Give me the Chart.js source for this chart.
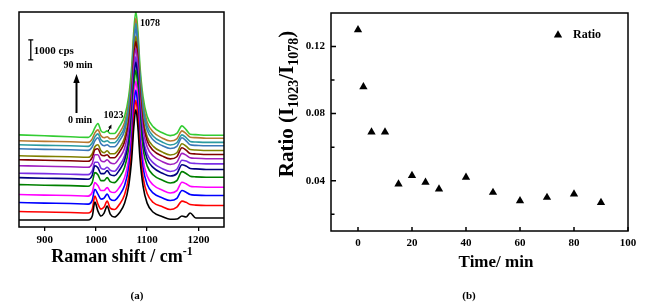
<!DOCTYPE html>
<html lang="en">

<head>
    <meta charset="UTF-8">
    <script src="https://cdn.jsdelivr.net/npm/chart.js"></script>
    <title>Raman spectra and I1023/I1078 ratio</title>
    <style>
        body { margin: 0; width: 666px; height: 307px; position: relative; overflow: hidden; background: #fff; font-family: "Liberation Serif", serif; }
        .painel { position: absolute; top: 0; height: 307px; }
        #painelA { left: 0; width: 260px; }
        #painelB { left: 260px; width: 406px; }
        .rotulo { position: absolute; top: 289px; width: 30px; margin-left: -15px; text-align: center; font-weight: bold; font-size: 11px; }
    </style>
</head>

<body>
    <div class="painel" id="painelA"><canvas id="espectros"></canvas></div>
    <div class="painel" id="painelB"><canvas id="razao"></canvas></div>
    <div class="rotulo" style="left:137px">(a)</div>
    <div class="rotulo" style="left:469px">(b)</div>
</body>
<script>
    // (a) spectra, intensity in cps (curves stacked with offset)
    const wavenumbers = [850, 900, 950, 985, 993, 998, 1004, 1010, 1016, 1022, 1028, 1036, 1046, 1056, 1064, 1070, 1074, 1078, 1082, 1086, 1092, 1100, 1112, 1130, 1145, 1158, 1168, 1176, 1184, 1195, 1215, 1250];
    const xTicksA = [900, 1000, 1100, 1200];

    const int0min = [350, 350, 350, 350, 550, 1250, 800, 550, 700, 1050, 650, 500, 720, 1190, 2070, 3460, 5010, 5900, 5010, 3460, 2070, 1200, 740, 520, 390, 400, 550, 500, 700, 450, 450, 450];
    const int2min = [780, 750, 730, 700, 900, 1550, 1150, 900, 1000, 1300, 950, 880, 1140, 1620, 2510, 3910, 5480, 6380, 5480, 3910, 2510, 1680, 1230, 1020, 880, 1000, 1300, 1240, 1130, 1100, 1080, 1080];
    const int5min = [1230, 1200, 1180, 1150, 1350, 1900, 1650, 1400, 1450, 1650, 1400, 1330, 1600, 2080, 2980, 4390, 5970, 6880, 5970, 4390, 2980, 2150, 1700, 1460, 1330, 1440, 1830, 1750, 1630, 1600, 1580, 1580];
    const int10min = [1630, 1600, 1580, 1550, 1750, 2230, 2080, 1830, 1830, 1980, 1780, 1730, 2000, 2480, 3390, 4820, 6420, 7330, 6420, 4820, 3390, 2560, 2110, 1850, 1710, 1830, 2250, 2170, 2050, 2020, 2000, 2000];
    const int15min = [2130, 2100, 2080, 2050, 2250, 2730, 2630, 2330, 2330, 2480, 2280, 2230, 2500, 2990, 3910, 5350, 6960, 7880, 6960, 5350, 3910, 3070, 2610, 2350, 2210, 2330, 2780, 2690, 2550, 2520, 2500, 2500];
    const int20min = [2480, 2450, 2430, 2400, 2600, 3080, 2980, 2680, 2680, 2830, 2630, 2580, 2860, 3350, 4280, 5730, 7350, 8280, 7350, 5730, 4280, 3430, 2980, 2700, 2560, 2680, 3130, 3060, 2940, 2920, 2890, 2890];
    const int25min = [2700, 2680, 2650, 2630, 2830, 3250, 3250, 2950, 2900, 3000, 2850, 2800, 3090, 3580, 4520, 5980, 7620, 8550, 7620, 5980, 4520, 3680, 3220, 2930, 2790, 2900, 3350, 3310, 3220, 3190, 3170, 3170];
    const int30min = [3080, 3050, 3030, 3000, 3200, 3630, 3630, 3330, 3280, 3380, 3230, 3180, 3470, 3960, 4910, 6380, 8030, 8980, 8030, 6380, 4910, 4030, 3570, 3280, 3140, 3250, 3700, 3610, 3480, 3450, 3430, 3430];
    const int40min = [3380, 3350, 3330, 3300, 3500, 3880, 3930, 3630, 3580, 3630, 3480, 3480, 3770, 4270, 5220, 6710, 8380, 9330, 8380, 6710, 5220, 4330, 3840, 3560, 3420, 3530, 3980, 3860, 3690, 3670, 3640, 3640];
    const int50min = [3580, 3550, 3530, 3500, 3680, 4030, 4130, 3830, 3730, 3830, 3680, 3680, 3970, 4480, 5440, 6940, 8620, 9580, 8620, 6940, 5440, 4530, 4050, 3760, 3620, 3730, 4180, 4060, 3890, 3870, 3840, 3840];
    const int60min = [3930, 3900, 3880, 3850, 4030, 4330, 4480, 4180, 4080, 4130, 4030, 4030, 4330, 4840, 5800, 7320, 9010, 9980, 9010, 7320, 5800, 4870, 4370, 4080, 3940, 4050, 4480, 4330, 4130, 4100, 4080, 4080];
    const int70min = [4130, 4100, 4080, 4050, 4230, 4530, 4680, 4380, 4280, 4330, 4230, 4230, 4530, 5040, 6020, 7540, 9250, 10230, 9250, 7540, 6020, 5070, 4560, 4260, 4120, 4230, 4630, 4490, 4300, 4270, 4250, 4250];
    const int80min = [4330, 4300, 4280, 4250, 4430, 4730, 4880, 4580, 4480, 4530, 4430, 4430, 4730, 5250, 6230, 7770, 9490, 10480, 9490, 7770, 6230, 5280, 4770, 4460, 4320, 4430, 4830, 4690, 4510, 4490, 4460, 4460];
    const int90min = [4630, 4580, 4530, 4500, 4700, 4980, 5200, 4830, 4750, 4830, 4700, 4700, 5040, 5560, 6550, 8100, 9840, 10830, 9840, 8100, 6550, 5560, 5030, 4730, 4590, 4700, 5080, 4890, 4660, 4640, 4610, 4610];

    const spectraTimes = ['0 min', '2 min', '5 min', '10 min', '15 min', '20 min', '25 min', '30 min', '40 min', '50 min', '60 min', '70 min', '80 min', '90 min'];
    const lineColors = ['#000000', '#ff0000', '#0000ff', '#ff00ff', '#008000', '#000080', '#7a2ee6', '#a020c0', '#800000', '#808000', '#3a78b8', '#2a9aa0', '#b87830', '#33cc33'];

    // (b) ratio versus time
    const times = [0, 2, 5, 10, 15, 20, 25, 30, 40, 50, 60, 70, 80, 90];
    const ratios = [0.130, 0.096, 0.069, 0.069, 0.038, 0.043, 0.039, 0.035, 0.042, 0.033, 0.028, 0.030, 0.032, 0.027];
    const xTicksB = [0, 20, 40, 60, 80, 100];
    const yTicksB = [0.02, 0.04, 0.06, 0.08, 0.10, 0.12];

    const serif = '"Liberation Serif", "Times New Roman", serif';

    function textoComIndices(ctx, partes, cx, y) {
        let total = 0;
        partes.forEach(p => { ctx.font = `bold ${p[1]}px ${serif}`; total += ctx.measureText(p[0]).width; });
        let x = cx - total / 2;
        ctx.textAlign = 'left';
        ctx.textBaseline = 'alphabetic';
        partes.forEach(p => {
            ctx.font = `bold ${p[1]}px ${serif}`;
            ctx.fillText(p[0], x, y + p[2]);
            x += ctx.measureText(p[0]).width;
        });
    }

    function seta(ctx, x1, y1, x2, y2, cab, larg) {
        const ang = Math.atan2(y2 - y1, x2 - x1);
        ctx.beginPath();
        ctx.moveTo(x1, y1);
        ctx.lineTo(x2 - Math.cos(ang) * cab * 0.8, y2 - Math.sin(ang) * cab * 0.8);
        ctx.stroke();
        ctx.beginPath();
        ctx.moveTo(x2, y2);
        ctx.lineTo(x2 - Math.cos(ang) * cab + Math.sin(ang) * larg, y2 - Math.sin(ang) * cab - Math.cos(ang) * larg);
        ctx.lineTo(x2 - Math.cos(ang) * cab - Math.sin(ang) * larg, y2 - Math.sin(ang) * cab + Math.cos(ang) * larg);
        ctx.closePath();
        ctx.fill();
    }

    const desenhoA = {
        id: 'desenhoA',
        afterDraw(chart) {
            const ctx = chart.ctx, a = chart.chartArea, sx = chart.scales.x, sy = chart.scales.y;
            ctx.save();
            ctx.strokeStyle = '#000';
            ctx.fillStyle = '#000';
            ctx.lineWidth = 1.5;
            ctx.strokeRect(a.left, a.top, a.right - a.left, a.bottom - a.top);

            // 1000 cps scale bar
            const bx = sx.getPixelForValue(873);
            const b1 = sy.getPixelForValue(8400), b2 = sy.getPixelForValue(9400);
            ctx.lineWidth = 1.3;
            ctx.beginPath();
            ctx.moveTo(bx, b1); ctx.lineTo(bx, b2);
            ctx.moveTo(bx - 2.5, b1); ctx.lineTo(bx + 2.5, b1);
            ctx.moveTo(bx - 2.5, b2); ctx.lineTo(bx + 2.5, b2);
            ctx.stroke();
            ctx.font = `bold 11px ${serif}`;
            ctx.textBaseline = 'middle';
            ctx.textAlign = 'left';
            ctx.fillText('1000 cps', bx + 3, (b1 + b2) / 2 + 1);

            ctx.font = `bold 10px ${serif}`;
            ctx.textAlign = 'center';
            ctx.fillText('90 min', 78, 65);
            ctx.fillText('0 min', 80, 120);
            ctx.lineWidth = 2;
            seta(ctx, 76.5, 113, 76.5, 74, 9, 3.2);

            ctx.textAlign = 'left';
            ctx.fillText('1078', 140, 23);
            ctx.fillText('1023', 103.5, 115);
            ctx.lineWidth = 1;
            seta(ctx, 108, 131.5, 111.5, 124.5, 4, 1.8);

            textoComIndices(ctx, [['Raman shift / cm', 18, 0], ['-1', 12, -7]], 122, 262);
            ctx.restore();
        }
    };

    const desenhoB = {
        id: 'desenhoB',
        afterDraw(chart) {
            const ctx = chart.ctx, a = chart.chartArea, sx = chart.scales.x, sy = chart.scales.y;
            ctx.save();
            ctx.strokeStyle = '#000';
            ctx.fillStyle = '#000';
            ctx.lineWidth = 1.5;
            ctx.strokeRect(a.left, a.top, a.right - a.left, a.bottom - a.top);

            // inward ticks
            ctx.beginPath();
            sx.ticks.forEach(t => {
                const px = sx.getPixelForValue(t.value);
                ctx.moveTo(px, a.bottom); ctx.lineTo(px, a.bottom - 4);
            });
            sy.ticks.forEach(t => {
                const py = sy.getPixelForValue(t.value);
                const comp = t.label ? 5 : 3.5;
                ctx.moveTo(a.left, py); ctx.lineTo(a.left + comp, py);
            });
            ctx.stroke();

            // legend
            const lx = 298, ly = 35, r = 4.8;
            ctx.beginPath();
            ctx.moveTo(lx, ly - r);
            ctx.lineTo(lx + r * 0.866, ly + r / 2);
            ctx.lineTo(lx - r * 0.866, ly + r / 2);
            ctx.closePath();
            ctx.fill();
            ctx.font = `bold 12px ${serif}`;
            ctx.textAlign = 'left';
            ctx.textBaseline = 'middle';
            ctx.fillText('Ratio', 313, 35);

            // axis titles
            textoComIndices(ctx, [['Time/ min', 17, 0]], 236, 267);
            ctx.translate(32.5, 104);
            ctx.rotate(-Math.PI / 2);
            textoComIndices(ctx, [['Ratio (I', 21, 0], ['1023', 14, 5], ['/I', 21, 0], ['1078', 14, 5], [')', 21, 0]], 0, 0);
            ctx.restore();
        }
    };

    const espectros = [int0min, int2min, int5min, int10min, int15min, int20min, int25min, int30min, int40min, int50min, int60min, int70min, int80min, int90min];

    let dadosA = {
        datasets: espectros.map((serie, i) => ({
            label: spectraTimes[i],
            data: wavenumbers.map((w, j) => ({ x: w, y: serie[j] })),
            borderColor: lineColors[i],
            borderWidth: 1.6,
            pointRadius: 0,
            cubicInterpolationMode: 'monotone',
            fill: false
        }))
    };

    const configA = {
        type: 'line',
        data: dadosA,
        options: {
            responsive: true,
            maintainAspectRatio: false,
            animation: false,
            devicePixelRatio: 1,
            layout: { padding: { left: 19, right: 36, top: 12, bottom: 0 } },
            plugins: { legend: { display: false }, tooltip: { enabled: false } },
            scales: {
                x: {
                    type: 'linear',
                    min: 850,
                    max: 1250,
                    afterBuildTicks: s => { s.ticks = xTicksA.map(v => ({ value: v })); },
                    afterFit: s => { s.height = 80; },
                    border: { display: false },
                    grid: { drawOnChartArea: false, drawTicks: true, tickLength: 4, color: '#000', lineWidth: 1.3 },
                    ticks: { color: '#000', padding: 3, maxRotation: 0, font: { family: serif, size: 11, weight: 'bold' }, callback: v => String(v) }
                },
                y: { display: false, min: 0, max: 10800 }
            }
        },
        plugins: [desenhoA]
    };

    new Chart(document.getElementById('espectros'), configA);

    let dadosB = {
        datasets: [{
            label: 'Ratio',
            data: times.map((t, i) => ({ x: t, y: ratios[i] })),
            showLine: false,
            pointStyle: 'triangle',
            pointRadius: 4.8,
            backgroundColor: '#000',
            borderColor: '#000',
            borderWidth: 0
        }]
    };

    const configB = {
        type: 'scatter',
        data: dadosB,
        options: {
            responsive: true,
            maintainAspectRatio: false,
            animation: false,
            devicePixelRatio: 1,
            layout: { padding: { left: 0, right: 38, top: 13, bottom: 0 } },
            plugins: { legend: { display: false }, tooltip: { enabled: false } },
            scales: {
                x: {
                    min: -10,
                    max: 100,
                    afterBuildTicks: s => { s.ticks = xTicksB.map(v => ({ value: v })); },
                    afterFit: s => { s.height = 76; },
                    border: { display: false },
                    grid: { display: false, drawTicks: false },
                    ticks: { color: '#000', padding: 6, maxRotation: 0, font: { family: serif, size: 11, weight: 'bold' }, callback: v => String(v) }
                },
                y: {
                    min: 0.01,
                    max: 0.14,
                    afterBuildTicks: s => { s.ticks = yTicksB.map(v => ({ value: v })); },
                    afterFit: s => { s.width = 71; },
                    border: { display: false },
                    grid: { display: false, drawTicks: false },
                    ticks: {
                        color: '#000',
                        padding: 6,
                        font: { family: serif, size: 11, weight: 'bold' },
                        callback: v => (Math.round(v * 100) % 4 === 0 ? v.toFixed(2) : '')
                    }
                }
            }
        },
        plugins: [desenhoB]
    };

    new Chart(document.getElementById('razao'), configB);
</script>

</html>
